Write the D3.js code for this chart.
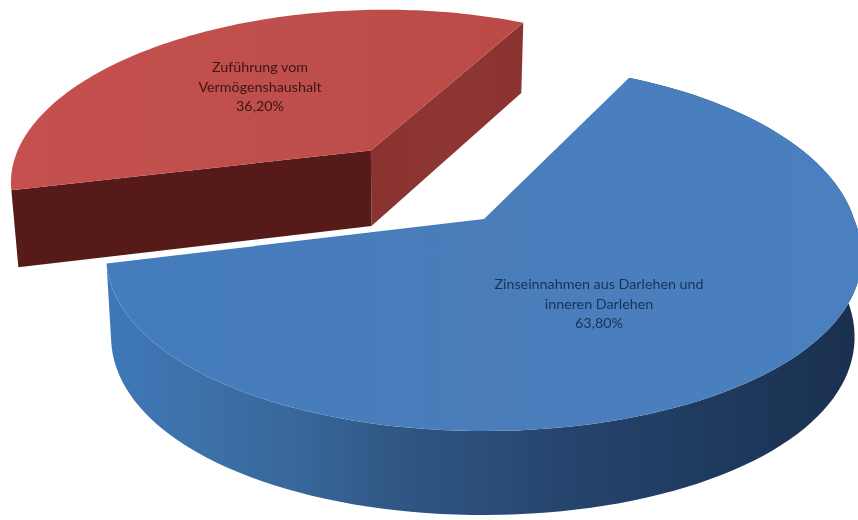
<!DOCTYPE html>
<html>
<head>
<meta charset="utf-8">
<script src="https://cdn.jsdelivr.net/npm/d3@7"></script>
<style>
	body { margin: 0; background: #fff; }
	svg { display: block; filter: blur(0.45px); }
	text { font-family: Lato, "Open Sans", sans-serif; font-size: 14.3px; text-anchor: middle; }
</style>
</head>
<body>
<svg id="chart" width="858" height="520"></svg>
<script>
//Data
var categories = ["Zinseinnahmen aus Darlehen und|inneren Darlehen", "Zuführung vom|Vermögenshaushalt"];
var shares = [63.8, 36.2];

//Layout
var width = 858, height = 520;
var cx = 484, cy = 219, rx = 370, ry = 179.5, persp = 0.1535;
var explode = [0, 0.52];
var radius = [1, 1.014];
var labelPos = [[599, 304], [260, 87]];
var labelColor = ["#14335c", "#3d1512"];

var svg = d3.select("svg#chart");
var percent = d3.formatLocale({decimal: ",", thousands: ".", grouping: [3], currency: ["", "€"]}).format(".2f");

var pie = d3.pie()
	.sort(null)
	.startAngle(26.5 * Math.PI / 180)
	.endAngle((26.5 + 360) * Math.PI / 180);
var slices = pie(shares);

//Disc coordinates to screen, drop = true gives the underside of the slab
function project(X, Y, drop) {
	var s = 1 / (1 - persp * Y);
	var near = Math.max(Y, 0);
	var x = cx + rx * X * s * (1 + 0.05 * near), y = cy + ry * Y * s;
	if (drop) {
		x += (409 - x) * 0.0176 * (1 - 0.5 * near);
		y += 78 + 6 * Y;
	}
	return [x, y];
}

function rimPoints(d, off, r, drop) {
	var steps = d3.range(0, 121).map(function(i) {
		return d.startAngle + (d.endAngle - d.startAngle) * i / 120;
	});
	return steps.map(function(a) {
		return project(off[0] + r * Math.sin(a), off[1] - r * Math.cos(a), drop);
	});
}

var line = d3.line();
function closed(points) { return line(points) + "Z"; }

//Gradients
var defs = svg.append("defs");
function gradient(id, x1, x2, stops) {
	var g = defs.append("linearGradient")
		.attr("id", id)
		.attr("gradientUnits", "userSpaceOnUse")
		.attr("x1", x1).attr("x2", x2).attr("y1", 0).attr("y2", 0);
	stops.forEach(function(s) {
		g.append("stop").attr("offset", s[0]).attr("stop-color", s[1]);
	});
}
gradient("blueWall", 108, 858, [[0, "#3f78b8"], [0.13, "#3c70a8"], [0.26, "#386698"], [0.4, "#2f5583"], [0.62, "#25446d"], [0.9, "#1c3557"], [1, "#1a3050"]]);
gradient("redRight", 372, 520, [[0, "#8a3230"], [0.5, "#8e3634"], [1, "#8b3331"]]);
gradient("redTop", 10, 522, [[0, "#c5504e"], [0.5, "#bf4f4c"], [1, "#bb4a47"]]);
gradient("blueTop", 108, 858, [[0, "#447cbc"], [0.5, "#4a7dba"], [1, "#4a80c0"]]);

//Red slice first, blue sits in front of it
[1, 0].forEach(function(i) {
	var d = slices[i];
	var mid = (d.startAngle + d.endAngle) / 2;
	var off = [explode[i] * Math.sin(mid), -explode[i] * Math.cos(mid)];
	var top = rimPoints(d, off, radius[i], false);
	var low = rimPoints(d, off, radius[i], true);
	var apex = project(off[0], off[1], false);
	var apexLow = project(off[0], off[1], true);
	var g = svg.append("g").attr("class", "slice");

	if (i === 0) {
		g.append("path")
			.attr("d", closed(top.concat(low.slice().reverse())))
			.attr("fill", "url(#blueWall)");
	} else {
		// the rim of the red slice runs from the left corner over the back to the right corner
		g.append("path")
			.attr("d", closed([apex, top[top.length - 1], low[low.length - 1], apexLow]))
			.attr("fill", "url(#redRight)");
		g.append("path")
			.attr("d", closed([apex, top[0], low[0], apexLow]))
			.attr("fill", "#561b19");
	}

	g.append("path")
		.attr("d", closed([apex].concat(top)))
		.attr("fill", i === 0 ? "url(#blueTop)" : "url(#redTop)");
});

//Labels
slices.forEach(function(d, i) {
	var rows = categories[i].split("|").concat(percent(shares[i]) + "%");
	var label = svg.append("text")
		.attr("x", labelPos[i][0])
		.attr("y", labelPos[i][1])
		.attr("fill", labelColor[i]);
	rows.forEach(function(row, r) {
		label.append("tspan")
			.attr("x", labelPos[i][0])
			.attr("dy", r === 0 ? -14.6 : 19.3)
			.text(row);
	});
});
</script>
</body>
</html>
